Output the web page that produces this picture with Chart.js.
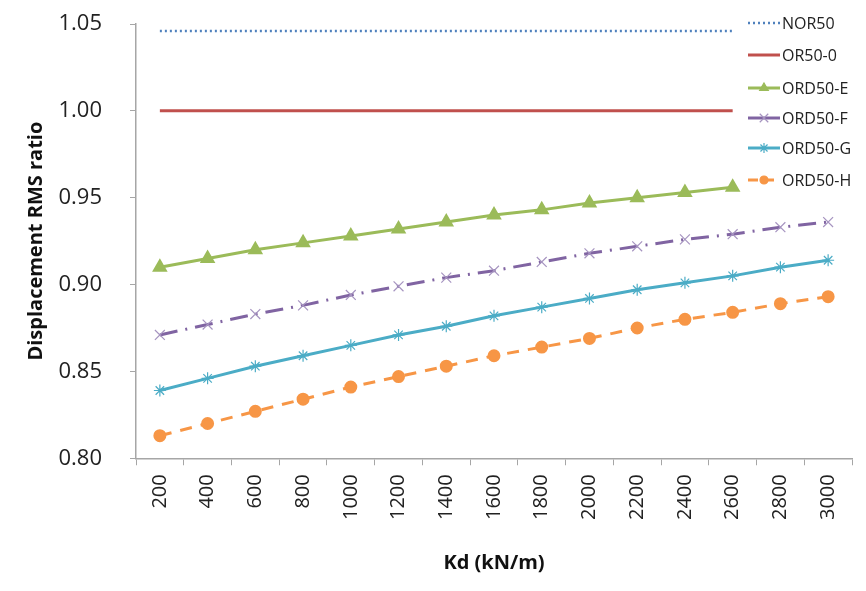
<!DOCTYPE html>
<html>
<head>
<meta charset="utf-8">
<script src="https://cdn.jsdelivr.net/npm/chart.js@4.4.0/dist/chart.umd.min.js"></script>
<style>
  html, body { margin: 0; padding: 0; background: #fff; }
  #wrap { width: 866px; height: 591px; }
</style>
</head>
<body>
<div id="wrap"><canvas id="mycanvas" width="866" height="591"></canvas></div>
<script>
var kd = ["200","400","600","800","1000","1200","1400","1600","1800","2000","2200","2400","2600","2800","3000"];

var nor50   = [1.046,1.046,1.046,1.046,1.046,1.046,1.046,1.046,1.046,1.046,1.046,1.046,1.046];
var or50_0  = [1.000,1.000,1.000,1.000,1.000,1.000,1.000,1.000,1.000,1.000,1.000,1.000,1.000];
var ord50E  = [0.910,0.915,0.920,0.924,0.928,0.932,0.936,0.940,0.943,0.947,0.950,0.953,0.956];
var ord50F  = [0.871,0.877,0.883,0.888,0.894,0.899,0.904,0.908,0.913,0.918,0.922,0.926,0.929,0.933,0.936];
var ord50G  = [0.839,0.846,0.853,0.859,0.865,0.871,0.876,0.882,0.887,0.892,0.897,0.901,0.905,0.910,0.914];
var ord50H  = [0.813,0.820,0.827,0.834,0.841,0.847,0.853,0.859,0.864,0.869,0.875,0.880,0.884,0.889,0.893];

var yTicks = [0.80, 0.85, 0.90, 0.95, 1.00, 1.05];

var font = "'Open Sans', 'Noto Sans', sans-serif";

// legend drawn over the plot, top right, like the original
var sideLegend = {
	id: "sideLegend",
	afterDraw: function(chart) {
		var ctx = chart.ctx;
		var ys = [23, 55, 88, 118, 148, 180];
		chart.data.datasets.forEach(function(ds, i) {
			var y = ys[i];
			ctx.save();
			ctx.strokeStyle = ds.borderColor;
			ctx.lineWidth = ds.borderWidth;
			ctx.setLineDash(ds.legendDash || []);
			ctx.beginPath();
			ctx.moveTo(748, y);
			ctx.lineTo(780, y);
			ctx.stroke();
			ctx.setLineDash([]);
			if (ds.pointStyle && ds.pointRadius > 0) {
				ctx.fillStyle = ds.pointBackgroundColor;
				ctx.strokeStyle = ds.pointBorderColor;
				ctx.lineWidth = 1.2;
				Chart.helpers.drawPoint(ctx, {
					pointStyle: ds.pointStyle,
					radius: ds.pointRadius - 1,
					borderWidth: 1.2
				}, 764, y);
			}
			ctx.fillStyle = "#222";
			ctx.font = "16px " + font;
			ctx.textBaseline = "middle";
			ctx.fillText(ds.label, 782, y + 1);
			ctx.restore();
		});
	}
};

var ctx = document.getElementById("mycanvas");

var chartdata = {
	labels: kd,
	datasets: [
		{
			label: "NOR50", data: nor50,
			borderColor: "#4F81BD", borderWidth: 2.5,
			borderDash: [2, 3], legendDash: [2, 3],
			pointRadius: 0
		},
		{
			label: "OR50-0", data: or50_0,
			borderColor: "#C0504D", borderWidth: 3,
			pointRadius: 0
		},
		{
			label: "ORD50-E", data: ord50E,
			borderColor: "#9BBB59", borderWidth: 3,
			pointStyle: "triangle", pointRadius: 6,
			pointBackgroundColor: "#9BBB59", pointBorderColor: "#9BBB59"
		},
		{
			label: "ORD50-F", data: ord50F,
			borderColor: "#8064A2", borderWidth: 3,
			borderDash: [18, 8, 2, 8], legendDash: [],
			pointStyle: "crossRot", pointRadius: 7,
			pointBackgroundColor: "#A694C0", pointBorderColor: "#A694C0", pointBorderWidth: 1.2
		},
		{
			label: "ORD50-G", data: ord50G,
			borderColor: "#4BACC6", borderWidth: 3,
			pointStyle: "star", pointRadius: 6,
			pointBackgroundColor: "#4BACC6", pointBorderColor: "#4BACC6", pointBorderWidth: 1.2
		},
		{
			label: "ORD50-H", data: ord50H,
			borderColor: "#F79646", borderWidth: 3,
			borderDash: [12, 9], legendDash: [10, 6],
			pointStyle: "circle", pointRadius: 5,
			pointBackgroundColor: "#F79646", pointBorderColor: "#F79646"
		}
	]
};

var new_chart = new Chart(ctx, {
	type: "line",
	data: chartdata,
	plugins: [sideLegend],
	options: {
		responsive: false,
		animation: false,
		layout: { padding: { top: 24, right: 14, bottom: 12, left: 20 } },
		plugins: {
			legend: { display: false },
			tooltip: { enabled: false }
		},
		elements: { line: { tension: 0, fill: false } },
		scales: {
			x: {
				offset: true,
				grid: { display: true, offset: true, drawOnChartArea: false, tickLength: 7, color: "#A6A6A6" },
				border: { color: "#A6A6A6", width: 1.5 },
				ticks: {
					minRotation: 90, maxRotation: 90, autoSkip: false,
					color: "#222", font: { family: font, size: 20 }, padding: 9
				},
				title: {
					display: true, text: "Kd (kN/m)", color: "#111",
					font: { family: font, size: 20, weight: "bold" }, padding: { top: 22 }
				}
			},
			y: {
				min: 0.80, max: 1.05,
				afterBuildTicks: function(axis) {
					axis.ticks = yTicks.map(function(v) { return { value: v }; });
				},
				afterFit: function(axis) {
					axis.width = 116;
					axis.paddingTop = 0;
					axis.paddingBottom = 0;
				},
				grid: { display: true, drawOnChartArea: false, tickLength: 6, color: "#A6A6A6" },
				border: { color: "#A6A6A6", width: 1.5 },
				ticks: {
					color: "#222", font: { family: font, size: 22 }, padding: 28,
					callback: function(v) { return v.toFixed(2); }
				},
				title: {
					display: true, text: "Displacement RMS ratio", color: "#111",
					font: { family: font, size: 20, weight: "bold" }, padding: { bottom: 4 }
				}
			}
		}
	}
});
</script>
</body>
</html>
